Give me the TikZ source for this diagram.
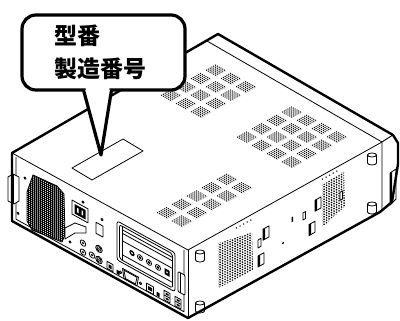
\documentclass[tikz,border=0pt]{standalone}
\usepackage{fontspec}
\newfontfamily\cjk{Noto Sans CJK JP}
\begin{document}
\begin{tikzpicture}[x=1pt,y=-1pt,line join=round,
  edge/.style={line width=0.8pt},
  outline/.style={line width=2.4pt},
  rear/.style={shift={(12,153)},x={(1pt,-0.551pt)},y={(0pt,-1pt)}},
  side/.style={shift={(188,250)},x={(1pt,0.557pt)},y={(0pt,-1pt)}},
  topf/.style={shift={(12,153)},x={(1pt,-0.551pt)},y={(1pt,0.557pt)}},
  topdots/.style={line width=1pt,dash pattern=on 1pt off 1.055pt},
  sidedots/.style={line width=1.3pt,dash pattern=on 1.3pt off 1.56pt},
  bubble/.style={line width=3.2pt,fill=white},
  foot/.style={edge,fill=white},
  label/.style={font=\cjk\bfseries\fontsize{23}{23}\selectfont,anchor=base west,inner sep=0pt}]
\useasboundingbox (0,0) rectangle (400,321);
\fill[white] (0,0) rectangle (400,321);

% ---- main edges
\draw[edge] (12,153) -- (188,250) -- (382,142);
\draw[edge] (207,41) -- (382,142) -- (393,135);
\draw[edge] (188,250) -- (188,318);
% bezel side
\draw[edge,fill=white] (382,142) -- (393,135) -- (398,143) -- (398,164) -- (392,202) -- (380,212) -- (382,210) -- cycle;
\draw[edge,fill=white] (390,173) -- (396,169) -- (396,199) -- (390,205) -- cycle;
\fill (390,173) -- (392,172) -- (392,204) -- (390,205) -- cycle;

% ---- label on top
\draw[edge] (72,168) -- (123,139) -- (143,151) -- (92,180) -- cycle;

% ---- top vents
\begin{scope}[topf]
  \foreach \bs in {28,43,58}{\foreach \bt in {131,146,161,176}{\foreach \k in {-4.5,-2.7,-0.9,0.9,2.7,4.5}{
    \draw[topdots] ({\bs-5.4},{\bt+\k}) -- ({\bs+5.4},{\bt+\k});}}}
  \foreach \bs in {104,119,134,149}{\foreach \bt in {131,146,161,176}{\foreach \k in {-4.5,-2.7,-0.9,0.9,2.7,4.5}{
    \draw[topdots] ({\bs-5.4},{\bt+\k}) -- ({\bs+5.4},{\bt+\k});}}}
  \foreach \bs in {132,147}{\foreach \bt in {23,38,53,68,83}{\foreach \k in {-4.5,-2.7,-0.9,0.9,2.7,4.5}{
    \draw[topdots] ({\bs-5.4},{\bt+\k}) -- ({\bs+5.4},{\bt+\k});}}}
\end{scope}

% ---- rear panel
\begin{scope}[rear]
  \draw[edge] (4,2) -- (4,64) -- (172,64) -- (172,2);
  \foreach \p in {(13,18),(6,57),(58,57),(90,17),(71,10)} \draw[edge] \p circle (1.1);
  % inlet
  \draw[edge,fill=white] (60,14) -- (76,14) -- (76,28) -- (60,28) -- cycle;
  \fill (62.5,16.5) -- (73.5,16.5) -- (73.5,26) -- (62.5,26) -- cycle;
  \fill[white] (65,19) -- (66.5,19) -- (66.5,23.5) -- (65,23.5) -- cycle;
  \fill[white] (69.5,19) -- (71,19) -- (71,23.5) -- (69.5,23.5) -- cycle;
  % switch
  \draw[edge] (84,23) -- (91,23) -- (91,34) -- (84,34) -- cycle;
  % jacks
  \foreach \p in {(71,51),(71,60),(80,58)} {\draw[edge] \p circle (2.8); \fill \p circle (1.2);}
  \foreach \p in {(87,48),(87,59)} {\draw[edge] \p circle (3.3); \draw[edge] \p circle (2); \fill \p circle (0.9);}
  % bottom row
  \draw[edge] (95,56) -- (101,56) -- (101,63) -- (95,63) -- cycle;
  \fill (96.5,58) -- (99.5,58) -- (99.5,61.5) -- (96.5,61.5) -- cycle;
  \fill (104.5,59) -- (107.5,59) -- (107.5,63) -- (104.5,63) -- cycle;
  \draw[edge] (112,55.5) -- (125,55.5) -- (123.5,63) -- (113.5,63) -- cycle;
  \draw[edge] (110.5,54.5) -- (126.5,54.5) -- (125,64) -- (112,64) -- cycle;
  \draw[edge] (108.5,59.5) circle (1.3);
  \draw[edge] (128.5,59.5) circle (1.3);
  \draw[edge] (134.5,56) -- (141.5,56) -- (141.5,63.5) -- (134.5,63.5) -- cycle;
  \fill (136,58) -- (140,58) -- (140,61.5) -- (136,61.5) -- cycle;
  \fill (144.5,59) -- (147.5,59) -- (147.5,63) -- (144.5,63) -- cycle;
  \foreach \u in {152,163}{
    \draw[edge] (\u,53.5) -- ({\u+6},53.5) -- ({\u+6},63) -- (\u,63) -- cycle;
    \draw[edge] (\u,58.2) -- ({\u+6},58.2);
    \fill ({\u+1.5},55) -- ({\u+4.5},55) -- ({\u+4.5},56.8) -- ({\u+1.5},56.8) -- cycle;
    \fill ({\u+1.5},59.7) -- ({\u+4.5},59.7) -- ({\u+4.5},61.5) -- ({\u+1.5},61.5) -- cycle;}
  % card slot
  \draw[edge,rounded corners=2.5pt] (105,10) -- (163,10) -- (163,49) -- (105,49) -- cycle;
  \draw[edge,rounded corners=2pt] (107.5,12.5) -- (160.5,12.5) -- (160.5,46.5) -- (107.5,46.5) -- cycle;
  \draw[edge] (110,16) -- (160.5,16) (110,19.5) -- (160.5,19.5) (110,27) -- (160.5,27) (110,41) -- (160.5,41);
  \draw[edge] (110,12.5) -- (110,46.5);
  \fill (120,34) circle (2.7);
  \fill[white] (120,34) circle (1);
  \foreach \u in {128,137,146} {\draw[edge] (\u,34) circle (2.6); \fill (\u,34) circle (1.5);}
  \fill (152.5,31) -- (157.5,31) -- (157.5,37) -- (152.5,37) -- cycle;
  \fill[white] (155,34) circle (1);
  % right latch
  \draw[edge,fill=white,rounded corners=1pt] (166,27) -- (173,27) -- (173,47) -- (166,47) -- cycle;
  \draw[edge] (168.5,27) -- (168.5,47);
\end{scope}

% fan grille
\begin{scope}
  \clip (33,175) -- (57,186) -- (64,194) -- (65,235) -- (62,242) -- (32,230) -- (27,221) -- (27,192) -- cycle;
  \begin{scope}[rear]
    \foreach \z in {0,2,...,70} \draw[line width=0.75pt] (10,\z) -- (60,\z);
    \foreach \s in {10,12,...,60} \draw[line width=0.75pt] (\s,0) -- (\s,70);
  \end{scope}
\end{scope}
\draw[edge] (33,175) -- (57,186) -- (64,194) -- (65,235) -- (62,242) -- (32,230) -- (27,221) -- (27,192) -- cycle;
\draw[edge,fill=white] (65,228) -- (75,223) -- (86,227) -- (86,233) -- (75,233) -- (65,239) -- cycle;
% left latch
\draw[edge,fill=white] (8,177) -- (13,174) -- (19,177) -- (19,201) -- (14,204) -- (8,201) -- cycle;
\draw[edge] (13,174) -- (13,204);

% ---- side panel
\begin{scope}[side]
  \begin{scope}
    \clip (30,10) -- (64,18) -- (65,56) -- (30,55) -- cycle;
    \foreach \z in {10,12.5,...,57.5} \draw[sidedots] (29,\z) -- (66,\z);
  \end{scope}
  \begin{scope}
    \clip (134,10) -- (156,8) -- (157,44) -- (134,52) -- cycle;
    \foreach \z in {7.5,10,...,52.5} \draw[sidedots] (133,\z) -- (158,\z);
  \end{scope}
  \draw[line width=1.1pt,dash pattern=on 1.1pt off 3pt] (48,5) -- (65,5);
  \draw[line width=1.1pt,dash pattern=on 1.1pt off 3pt] (134,4) -- (150,4);
  \foreach \t/\z in {78/27,73/51,124/48,130/27} {
    \draw[edge,fill=white] ({\t-3},{\z-6}) -- ({\t+3},{\z-6}) -- ({\t+3},{\z+5}) -- ({\t-3},{\z+5}) -- cycle;
    \fill ({\t-3},{\z-6}) -- ({\t-1},{\z-6}) -- ({\t-1},{\z+5}) -- ({\t-3},{\z+5}) -- cycle;}
  \draw[edge] (70,29) -- (73,29) -- (73,37) -- (70,37) -- cycle;
  \fill (103.5,25) -- (105,25) -- (105,30) -- (103.5,30) -- cycle;
  \draw[edge] (115,27) -- (117.5,27) -- (117.5,34) -- (115,34) -- cycle;
  \fill (95,46) circle (1.2);
  \draw[edge,fill=white] (152,27) -- (154.5,27) -- (154.5,35) -- (152,35) -- cycle;
\end{scope}

% feet
\foreach \x/\y in {200/256,200/307,372/159,372/208} {
  \draw[foot] ({\x-4.5},{\y-4}) -- ({\x-4.5},{\y+4}) arc[start angle=180,end angle=0,x radius=4.5,y radius=2] -- ({\x+4.5},{\y-4});
  \draw[foot] (\x,{\y-4}) ellipse [x radius=4.5,y radius=2];}

% ---- outline
\draw[outline] (12,153) -- (218,34) -- (393,135) -- (398,143) -- (398,164) -- (392,202) -- (380,212) -- (188,318) -- (12,221) -- cycle;

% ---- callout
\draw[bubble,rounded corners=14pt] (22,15) rectangle (185,90);
\draw[bubble] (83.5,90) -- (101,155) -- (111.5,90);
\fill[white] (85.6,87) -- (109.6,87) -- (109.1,93) -- (86.2,93) -- cycle;
\node[label] (t1) at (54,44.5) {型番};
\node[label] (t2) at (54,77.5) {製造番号};
\end{tikzpicture}
\end{document}
